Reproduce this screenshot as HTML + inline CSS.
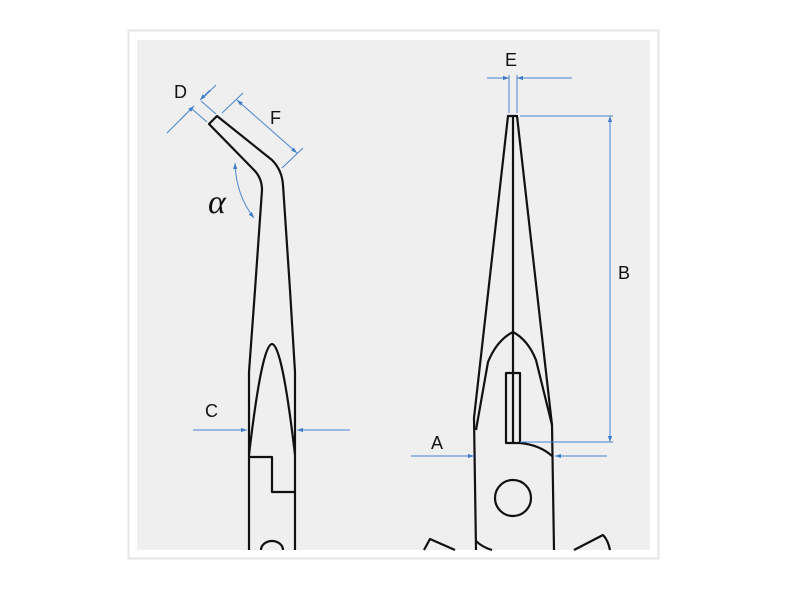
<!DOCTYPE html>
<html><head><style>
body{margin:0;background:#fff;width:800px;height:600px;overflow:hidden}
</style></head><body>
<svg width="800" height="600" viewBox="0 0 800 600" xmlns="http://www.w3.org/2000/svg">
<defs>
<marker id="ar" viewBox="0 0 10 10" refX="10" refY="5" markerWidth="9" markerHeight="6" orient="auto-start-reverse" markerUnits="userSpaceOnUse"><path d="M0,1.5 L10,5 L0,8.5z" fill="#3d7cc9"/></marker>
</defs>
<rect x="128.5" y="30.5" width="530" height="528" fill="#fff" stroke="#e6e6e6" stroke-width="2"/>
<rect x="137" y="40" width="513" height="510" fill="#efefef"/>
<g fill="none" stroke="#111" stroke-width="2.2" stroke-linejoin="round">
<path d="M249,550 L249,372 L255,290 L262,190 Q262,178 254,170 L209,124 L217,116 L272,160 Q282,170 283,185 L290,290 L295,372 L295,550"/>
<path d="M249,455 Q262,344 272,344 Q282,344 295,455"/>
<path d="M249,457 L272,457 L272,492 L295,492"/>
<path d="M261,550 A11,9 0 0 1 283,550"/>
<path d="M476,550 L474,418 L508,116 L517,116 L552,425 L554,550"/>
<path d="M513,116 L513,443"/>
<path d="M476,430 L488,362 Q497,340 513,332 Q528,340 536,360 L552,425"/>
<rect x="506" y="373" width="14" height="70"/>
<path d="M520,443 Q540,445 552,456"/>
<circle cx="513" cy="498" r="18"/>
<path d="M476,541 Q482,547 492,550"/>
<path d="M424,550 L430,539 L455,550"/>
<path d="M574,550 L603,535 Q608,540 610,550"/>
</g>
<g fill="none" stroke="#4a85cf" stroke-width="1">
<line x1="509" y1="75" x2="509" y2="113"/>
<line x1="517" y1="75" x2="517" y2="113"/>
<line x1="487" y1="78" x2="509" y2="78" marker-end="url(#ar)"/>
<line x1="572" y1="78" x2="517" y2="78" marker-end="url(#ar)"/>
<line x1="520" y1="116" x2="613" y2="116"/>
<line x1="520" y1="442" x2="613" y2="442"/>
<line x1="610" y1="116" x2="610" y2="442" marker-start="url(#ar)" marker-end="url(#ar)"/>
<line x1="411" y1="456" x2="474" y2="456" marker-end="url(#ar)"/>
<line x1="607" y1="456" x2="555" y2="456" marker-end="url(#ar)"/>
<line x1="193" y1="430" x2="247" y2="430" marker-end="url(#ar)"/>
<line x1="350" y1="430" x2="297" y2="430" marker-end="url(#ar)"/>
<line x1="207" y1="122" x2="192" y2="109"/>
<line x1="216" y1="114" x2="201" y2="101"/>
<line x1="167" y1="133" x2="187" y2="113"/>
<line x1="216" y1="85" x2="205" y2="96"/>
<line x1="180" y1="120" x2="194" y2="106" marker-end="url(#ar)"/>
<line x1="210" y1="90" x2="200" y2="100" marker-end="url(#ar)"/>
<line x1="222" y1="113" x2="243" y2="93"/>
<line x1="282" y1="168" x2="303" y2="148"/>
<line x1="237" y1="100" x2="297" y2="153" marker-start="url(#ar)" marker-end="url(#ar)"/>
<path d="M235,163 Q236,195 254,218" marker-start="url(#ar)" marker-end="url(#ar)"/>
</g>
<g font-family="Liberation Sans, sans-serif" font-size="18" fill="#111">
<text x="505" y="66">E</text>
<text x="618" y="279">B</text>
<text x="431" y="449">A</text>
<text x="205" y="417">C</text>
<text x="174" y="98">D</text>
<text x="270" y="124">F</text>
</g>
<text x="208" y="213" font-family="Liberation Serif, serif" font-style="italic" font-size="34" fill="#111">α</text>
</svg>
</body></html>
